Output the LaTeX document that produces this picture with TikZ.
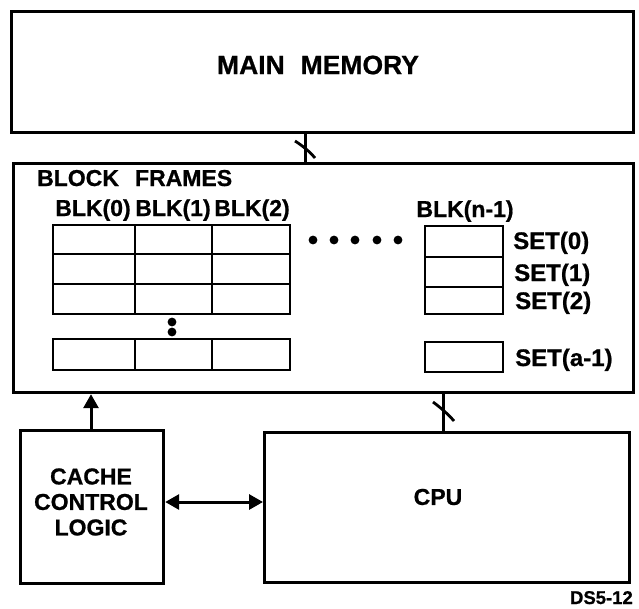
\documentclass[tikz,border=0pt]{standalone}
\usepackage{fontspec}
\setmainfont{Liberation Sans}[BoldFeatures={FakeBold=0.8}]
\usetikzlibrary{arrows.meta}
\tikzset{bigtip/.tip={Triangle[width=15pt,length=14pt]}}
\begin{document}
\begin{tikzpicture}[x=1pt,y=-1pt,
  bigbox/.style={draw, line width=3.2pt, inner sep=0pt, anchor=north west},
  cell/.style={draw, line width=2.8pt},
  lbl/.style={inner sep=0pt, font=\bfseries\fontsize{23}{25}\selectfont},
  conn/.style={line width=3pt},
  slashline/.style={line width=2.8pt},
  dotfill/.style={fill=black}]
\useasboundingbox (0,0) rectangle (639,608);

% boxes
\node[bigbox, minimum width=622pt, minimum height=121pt] (mem) at (10,10) {};
\node[bigbox, minimum width=620pt, minimum height=229pt] (cache) at (12,162) {};
\node[bigbox, minimum width=143pt, minimum height=153pt] (ccl) at (19,429) {};
\node[bigbox, minimum width=365pt, minimum height=150pt] (cpu) at (263,431) {};

% texts
\node[lbl, font=\bfseries\fontsize{26.5}{28}\selectfont] (memt) at (318,65) {MAIN\hspace{0.6em}MEMORY};
\node[lbl, anchor=base west, font=\bfseries\fontsize{23}{25}\selectfont] (bf) at (37,186) {BLOCK\hspace{0.7em}FRAMES};
\node[lbl, anchor=base] (b0) at (93,216) {BLK(0)};
\node[lbl, anchor=base] (b1) at (173,216) {BLK(1)};
\node[lbl, anchor=base] (b2) at (252,216) {BLK(2)};
\node[lbl, anchor=base] (bn) at (465,217) {BLK(n-1)};
\node[lbl, anchor=base west, font=\bfseries\fontsize{24}{26}\selectfont] (s0) at (513,249) {SET(0)};
\node[lbl, anchor=base west, font=\bfseries\fontsize{24}{26}\selectfont] (s1) at (514,281) {SET(1)};
\node[lbl, anchor=base west, font=\bfseries\fontsize{24}{26}\selectfont] (s2) at (515,309) {SET(2)};
\node[lbl, anchor=base west, font=\bfseries\fontsize{24}{26}\selectfont] (sa) at (515,366) {SET(a-1)};
\node[lbl, align=center, font=\bfseries\fontsize{23}{25.5}\selectfont] (cclt) at (91,502) {CACHE\\CONTROL\\LOGIC};
\node[lbl, font=\bfseries\fontsize{23}{25}\selectfont] (cput) at (438,497) {CPU};
\node[lbl, anchor=base east, font=\bfseries\fontsize{18.5}{20}\selectfont] (ds) at (633,604) {DS5-12};

% grid of block frames
\draw[cell] (53,225) rectangle (290,314);
\draw[cell] (53,254) -- (290,254) (53,284) -- (290,284);
\draw[cell] (135,225) -- (135,314) (212,225) -- (212,314);
\draw[cell] (53,339) rectangle (290,370);
\draw[cell] (135,339) -- (135,370) (212,339) -- (212,370);

% BLK(n-1) column
\draw[cell] (425,226) rectangle (503,314);
\draw[cell] (425,257) -- (503,257) (425,287) -- (503,287);
\draw[cell] (425,342) rectangle (503,372);

% dots
\foreach \x in {313,334,355,377,398} \fill[dotfill] (\x,240) circle (4.4);
\fill[dotfill] (172,322) circle (4.4);
\fill[dotfill] (172,332) circle (4.4);

% connectors
\coordinate (xm) at (305,0);
\coordinate (xc) at (443,0);
\coordinate (xa) at (91,0);
\coordinate (ya) at (0,502);
\draw[conn] (mem.south -| xm) -- (cache.north -| xm);
\draw[slashline] (295,141) .. controls (303,146) and (310,152) .. (315,158);
\draw[conn] (cpu.north -| xc) -- (cache.south -| xc);
\draw[slashline] (433,402) .. controls (441,408) and (448,414) .. (454,421);
\draw[conn, -bigtip] (ccl.north -| xa) -- (cache.south -| xa);
\draw[conn, bigtip-bigtip] (ccl.east |- ya) -- (cpu.west |- ya);
\end{tikzpicture}
\end{document}
